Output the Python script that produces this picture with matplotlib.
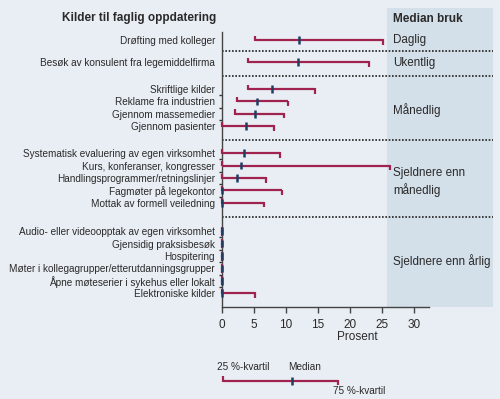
import matplotlib
matplotlib.use('Agg')
import matplotlib.pyplot as plt

plt.rcParams['font.family'] = ['Liberation Sans', 'DejaVu Sans']

# ---------------- data ----------------
labels = [
    'Drøfting med kolleger',
    'Besøk av konsulent fra legemiddelfirma',
    'Skriftlige kilder',
    'Reklame fra industrien',
    'Gjennom massemedier',
    'Gjennom pasienter',
    'Systematisk evaluering av egen virksomhet',
    'Kurs, konferanser, kongresser',
    'Handlingsprogrammer/retningslinjer',
    'Fagmøter på legekontor',
    'Mottak av formell veiledning',
    'Audio- eller videoopptak av egen virksomhet',
    'Gjensidig praksisbesøk',
    'Hospitering',
    'Møter i kollegagrupper/etterutdanningsgrupper',
    'Åpne møteserier i sykehus eller lokalt',
    'Elektroniske kilder',
]
q1 = [5.2, 4.1, 4.1, 2.3, 2.0, 0.0, 0.0, 0.0, 0.0, 0.0, 0.0, 0.0, 0.0, 0.0, 0.0, 0.0, 0.0]
median = [12.1, 11.9, 7.8, 5.5, 5.2, 3.7, 3.4, 2.9, 2.3, 0.0, 0.0, 0.0, 0.0, 0.0, 0.0, 0.0, 0.0]
q3 = [25.2, 22.9, 14.5, 10.3, 9.7, 8.2, 9.0, 26.2, 6.9, 9.3, 6.6, 0.0, 0.0, 0.0, 0.0, 0.0, 5.2]
groups = ['Daglig', 'Ukentlig', 'Månedlig', 'Sjeldnere enn\nmånedlig', 'Sjeldnere enn årlig']
group_sizes = [1, 1, 4, 5, 6]
xticks = [0, 5, 10, 15, 20, 25, 30]
legend_sample = (0.1, 10.9, 18.1)  # q1, median, q3

# ---------------- layout ----------------
BG = '#e9eef4'
SHADE = '#d3dfe9'
RED = '#a0224e'
NAVY = '#1d3e63'
TXT = '#2a2a2a'

first_y = 40
step = 12.4
group_gaps = [0, 22, 27, 27, 28.4]
group_label_shift = [0, 1, 2.5, 4, -1]

row_y = []
group_rows = []
y = first_y
for g, n in enumerate(group_sizes):
    if g > 0:
        y = row_y[-1] + group_gaps[g]
    rows = []
    for i in range(n):
        rows.append(y + i * step)
    row_y.extend(rows)
    group_rows.append(rows)

fig = plt.figure(figsize=(5.0, 3.99), dpi=100, facecolor=BG)
ax = fig.add_axes([222 / 500, 1 - 307 / 399, 271 / 500, 299 / 399])
ax.set_facecolor(BG)
xmax = 271 / 6.4
ax.set_xlim(0, xmax)
ax.set_ylim(307, 8)

# shaded "Median bruk" column
ax.axvspan(25.8, xmax, color=SHADE, zorder=0, lw=0)

for s in ['top', 'right']:
    ax.spines[s].set_visible(False)
ax.spines['left'].set_bounds(307, 32)
ax.spines['bottom'].set_bounds(0, 32.3)
for s in ['left', 'bottom']:
    ax.spines[s].set_color('#444444')
    ax.spines[s].set_linewidth(1.0)

ax.set_xticks(xticks)
ax.set_xticklabels([str(t) for t in xticks], fontsize=8.5, color=TXT)
ax.tick_params(axis='x', length=4, width=1, color='#444444', pad=5)
ax.set_xlabel('Prosent', fontsize=8.5, color=TXT, labelpad=0)

ax.set_yticks(row_y)
ax.set_yticklabels(labels, fontsize=7.2, color=TXT)
ax.tick_params(axis='y', length=0, pad=5)
mids = []
for rows in group_rows:
    for a, b in zip(rows[:-1], rows[1:]):
        mids.append((a + b) / 2)
ax.set_yticks(mids, minor=True)
ax.tick_params(axis='y', which='minor', length=2.5, width=1, color='#333333')


def draw_range(yy, a, m, b):
    ax.plot([a, b], [yy, yy], color=RED, lw=1.6, solid_capstyle='butt', zorder=3, clip_on=False)
    ax.plot([a, a], [yy + 0.8, yy - 4.5], color=RED, lw=1.6, solid_capstyle='butt', zorder=3, clip_on=False)
    ax.plot([b, b], [yy - 0.8, yy + 4.5], color=RED, lw=1.6, solid_capstyle='butt', zorder=3, clip_on=False)
    ax.plot([m, m], [yy - 3.8, yy + 3.8], color=NAVY, lw=1.8, solid_capstyle='butt', zorder=4, clip_on=False)


for yy, a, m, b in zip(row_y, q1, median, q3):
    draw_range(yy, a, m, b)

# group separators and labels
for g in range(1, len(group_rows)):
    sep = (group_rows[g - 1][-1] + group_rows[g][0]) / 2
    ax.plot([0, xmax], [sep, sep], color='#222222', lw=1.2, ls=(0, (1, 1)), zorder=2, clip_on=False)
for name, rows, sh in zip(groups, group_rows, group_label_shift):
    ax.text(26.7, sum(rows) / len(rows) + sh, name, fontsize=8.4, color=TXT, ha='left', va='center',
            linespacing=1.35)

ax.text(26.7, 19, 'Median bruk', fontsize=8.5, fontweight='bold', color=TXT, ha='left', va='center')
ax.text(-0.95, 18, 'Kilder til faglig oppdatering', fontsize=8.5, fontweight='bold', color=TXT,
        ha='right', va='center')

# legend sample
ly = 380.7
draw_range(ly, *legend_sample)
ax.text(-0.8, 367, '25 %-kvartil', fontsize=7.2, color=TXT, ha='left', va='center', clip_on=False)
ax.text(10.4, 367, 'Median', fontsize=7.2, color=TXT, ha='left', va='center', clip_on=False)
ax.text(17.3, 390.5, '75 %-kvartil', fontsize=7.2, color=TXT, ha='left', va='center', clip_on=False)

fig.savefig('out.png', dpi=100, facecolor=BG)
